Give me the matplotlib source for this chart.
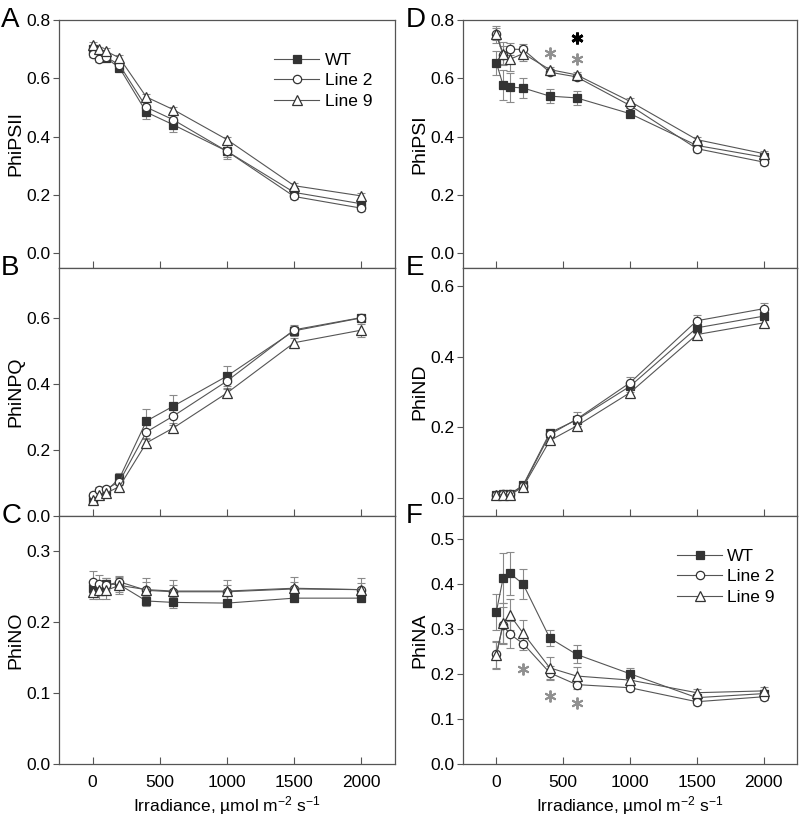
import matplotlib
matplotlib.use('Agg')
import matplotlib.pyplot as plt
import numpy as np

plt.rcParams['font.family'] = ['Liberation Sans', 'DejaVu Sans']
plt.rcParams['mathtext.fontset'] = 'custom'
plt.rcParams['mathtext.rm'] = 'Liberation Sans'
plt.rcParams['mathtext.it'] = 'Liberation Sans:italic'

# irradiance levels
irr = [0, 50, 100, 200, 400, 600, 1000, 1500, 2000]

# A - PhiPSII
psii_wt = [0.701, 0.676, 0.670, 0.636, 0.484, 0.441, 0.350, 0.209, 0.170]
psii_l2 = [0.682, 0.665, 0.673, 0.646, 0.501, 0.458, 0.350, 0.195, 0.155]
psii_l9 = [0.713, 0.699, 0.693, 0.670, 0.536, 0.493, 0.390, 0.232, 0.197]
psii_wt_e = [0.01, 0.01, 0.01, 0.01, 0.025, 0.025, 0.02, 0.01, 0.01]
psii_l2_e = [0.01, 0.01, 0.01, 0.01, 0.02, 0.02, 0.025, 0.01, 0.01]
psii_l9_e = [0.01, 0.01, 0.01, 0.01, 0.01, 0.01, 0.01, 0.01, 0.01]

# B - PhiNPQ
npq_wt = [0.051, 0.069, 0.075, 0.114, 0.287, 0.332, 0.423, 0.560, 0.599]
npq_l2 = [0.064, 0.079, 0.081, 0.104, 0.254, 0.302, 0.408, 0.563, 0.600]
npq_l9 = [0.049, 0.064, 0.069, 0.089, 0.221, 0.266, 0.372, 0.524, 0.562]
npq_wt_e = [0.005, 0.008, 0.008, 0.015, 0.035, 0.035, 0.03, 0.015, 0.01]
npq_l2_e = [0.005, 0.008, 0.008, 0.01, 0.02, 0.02, 0.02, 0.015, 0.01]
npq_l9_e = [0.005, 0.008, 0.008, 0.01, 0.015, 0.01, 0.012, 0.015, 0.02]

# C - PhiNO
no_wt = [0.249, 0.248, 0.254, 0.253, 0.230, 0.228, 0.227, 0.234, 0.234]
no_l2 = [0.257, 0.254, 0.252, 0.257, 0.245, 0.243, 0.243, 0.247, 0.246]
no_l9 = [0.243, 0.245, 0.245, 0.252, 0.246, 0.244, 0.244, 0.248, 0.246]
no_wt_e = [0.008, 0.01, 0.008, 0.01, 0.007, 0.008, 0.005, 0.005, 0.005]
no_l2_e = [0.016, 0.012, 0.01, 0.008, 0.012, 0.01, 0.01, 0.01, 0.01]
no_l9_e = [0.01, 0.012, 0.012, 0.012, 0.016, 0.016, 0.016, 0.016, 0.016]

# D - PhiPSI
psi_wt = [0.653, 0.577, 0.570, 0.567, 0.539, 0.533, 0.479, 0.370, 0.330]
psi_l2 = [0.751, 0.680, 0.700, 0.699, 0.621, 0.605, 0.507, 0.359, 0.313]
psi_l9 = [0.751, 0.685, 0.665, 0.685, 0.630, 0.612, 0.521, 0.390, 0.342]
psi_wt_e = [0.04, 0.05, 0.05, 0.035, 0.025, 0.025, 0.01, 0.01, 0.01]
psi_l2_e = [0.02, 0.03, 0.02, 0.02, 0.01, 0.01, 0.01, 0.01, 0.01]
psi_l9_e = [0.03, 0.04, 0.04, 0.025, 0.01, 0.01, 0.01, 0.01, 0.01]

# E - PhiND
nd_wt = [0.009, 0.011, 0.011, 0.037, 0.185, 0.221, 0.316, 0.481, 0.514]
nd_l2 = [0.010, 0.013, 0.012, 0.035, 0.180, 0.223, 0.326, 0.501, 0.535]
nd_l9 = [0.009, 0.010, 0.009, 0.032, 0.163, 0.204, 0.298, 0.462, 0.495]
nd_wt_e = [0.005, 0.005, 0.005, 0.005, 0.01, 0.01, 0.015, 0.015, 0.01]
nd_l2_e = [0.005, 0.005, 0.005, 0.005, 0.01, 0.02, 0.015, 0.015, 0.015]
nd_l9_e = [0.005, 0.005, 0.005, 0.005, 0.01, 0.01, 0.01, 0.01, 0.01]

# F - PhiNA
na_wt = [0.338, 0.412, 0.423, 0.399, 0.279, 0.243, 0.200, 0.147, 0.156]
na_l2 = [0.243, 0.309, 0.288, 0.267, 0.202, 0.176, 0.169, 0.138, 0.149]
na_l9 = [0.241, 0.312, 0.331, 0.290, 0.213, 0.195, 0.186, 0.158, 0.162]
na_wt_e = [0.04, 0.055, 0.048, 0.033, 0.018, 0.02, 0.013, 0.008, 0.008]
na_l2_e = [0.03, 0.04, 0.03, 0.015, 0.015, 0.01, 0.007, 0.007, 0.007]
na_l9_e = [0.03, 0.045, 0.035, 0.03, 0.025, 0.02, 0.01, 0.008, 0.008]

# significance asterisks
sig_d_x = [400, 600, 600]
sig_d_y = [0.688, 0.668, 0.739]
sig_d_c = ['#909090', '#909090', 'black']
sig_f_x = [200, 400, 600]
sig_f_y = [0.21, 0.15, 0.135]
sig_f_c = ['#909090', '#909090', '#909090']

fig = plt.figure(figsize=(8, 8.16), dpi=100)

# axes boxes
h = 0.3039
left_x, left_w = 0.07375, 0.42
right_x, right_w = 0.57875, 0.4175
bots = [0.6716, 0.3677, 0.0638]

panels = [
    ('A', 'PhiPSII', left_x, left_w, bots[0], (-0.05, 0.8), np.arange(0, 0.81, 0.2),
     (psii_wt, psii_l2, psii_l9), (psii_wt_e, psii_l2_e, psii_l9_e)),
    ('B', 'PhiNPQ', left_x, left_w, bots[1], (0, 0.75), np.arange(0, 0.61, 0.2),
     (npq_wt, npq_l2, npq_l9), (npq_wt_e, npq_l2_e, npq_l9_e)),
    ('C', 'PhiNO', left_x, left_w, bots[2], (0, 0.35), np.arange(0, 0.31, 0.1),
     (no_wt, no_l2, no_l9), (no_wt_e, no_l2_e, no_l9_e)),
    ('D', 'PhiPSI', right_x, right_w, bots[0], (-0.05, 0.8), np.arange(0, 0.81, 0.2),
     (psi_wt, psi_l2, psi_l9), (psi_wt_e, psi_l2_e, psi_l9_e)),
    ('E', 'PhiND', right_x, right_w, bots[1], (-0.05, 0.65), np.arange(0, 0.61, 0.2),
     (nd_wt, nd_l2, nd_l9), (nd_wt_e, nd_l2_e, nd_l9_e)),
    ('F', 'PhiNA', right_x, right_w, bots[2], (0, 0.55), np.arange(0, 0.51, 0.1),
     (na_wt, na_l2, na_l9), (na_wt_e, na_l2_e, na_l9_e)),
]

labels = ['WT', 'Line 2', 'Line 9']
markers = ['s', 'o', '^']
faces = ['#333333', 'white', 'white']
axes = {}

for letter, ylab, x0, w, b, ylim, yt, ys, es in panels:
    ax = fig.add_axes([x0, b, w, h])
    axes[letter] = ax
    for y, e, lab, m, fc in zip(ys, es, labels, markers, faces):
        ax.errorbar(irr, y, yerr=e, fmt='none', ecolor='#8a8a8a', elinewidth=0.8,
                    capsize=3, capthick=0.8, zorder=2)
        ax.plot(irr, y, color='#555555', lw=0.8, marker=m, ms=6.5 if m == '^' else 6,
                mfc=fc, mec='#333333', mew=0.9, label=lab, zorder=3)
    ax.set_xlim(-250, 2250)
    ax.set_ylim(*ylim)
    ax.set_yticks(yt)
    ax.set_yticklabels(['%.1f' % v for v in yt])
    ax.set_xticks([0, 500, 1000, 1500, 2000])
    ax.tick_params(axis='x', direction='in', length=5, color='#555555', labelsize=12.5, pad=8)
    ax.tick_params(axis='y', direction='out', length=4, color='#555555', labelsize=12.5, pad=2)
    for s in ax.spines.values():
        s.set_color('#555555')
        s.set_linewidth(0.9)
    ax.set_ylabel(ylab, fontsize=14)
    ax.yaxis.set_label_coords(-0.103, 0.5)
    ax.text(-0.172, 1.0, letter, transform=ax.transAxes, fontsize=20, va='center', ha='left')
    if letter in ('C', 'F'):
        ax.set_xlabel('Irradiance, \u00b5mol m$^{-2}$ s$^{-1}$', fontsize=12.5, labelpad=3)
    else:
        ax.tick_params(axis='x', labelbottom=False)

for x, y, c in zip(sig_d_x, sig_d_y, sig_d_c):
    axes['D'].plot(x, y, ls='none', marker=(6, 2, 0), ms=8.5, mew=2.0 if c == 'black' else 1.4,
                   color=c, zorder=4)
for x, y, c in zip(sig_f_x, sig_f_y, sig_f_c):
    axes['F'].plot(x, y, ls='none', marker=(6, 2, 0), ms=8.5, mew=1.4, color=c, zorder=4)

for k in ('A', 'F'):
    axes[k].legend(loc='upper left', bbox_to_anchor=(0.62, 0.895), frameon=False, fontsize=12.5,
                   handlelength=2.6, handletextpad=0.3, labelspacing=0.3, borderaxespad=0)

fig.savefig('out.png', dpi=100)
